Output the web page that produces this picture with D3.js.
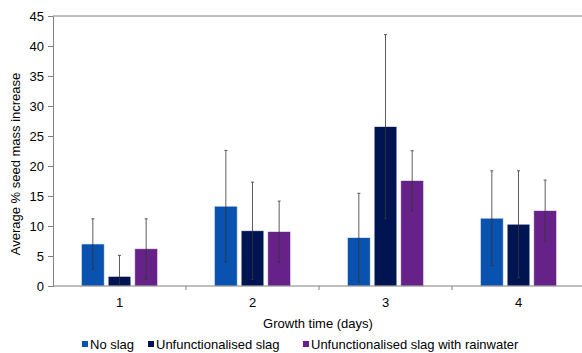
<!DOCTYPE html>
<meta charset="utf-8">
<script src="https://d3js.org/d3.v7.min.js"></script>
<style>
  body { margin: 0; background: #fff; }
  text { font-family: "Liberation Sans", Arial, sans-serif; fill: #000; }
</style>
<body>
<div id="chart"></div>
<script>
// data
var days = ["1", "2", "3", "4"];
var seriesNames = ["No slag", "Unfunctionalised slag", "Unfunctionalised slag with rainwater"];
var seriesColors = ["#0a52b0", "#001452", "#662288"];
var noSlag = [7.0, 13.3, 8.05, 11.3];
var noSlagErr = [4.2, 9.3, 7.4, 7.9];
var slag = [1.6, 9.2, 26.55, 10.3];
var slagErr = [3.5, 8.1, 15.35, 8.9];
var slagRain = [6.2, 9.05, 17.55, 12.55];
var slagRainErr = [5.0, 5.1, 5.0, 5.1];
var yTicks = [0, 5, 10, 15, 20, 25, 30, 35, 40, 45];

var values = [noSlag, slag, slagRain];
var errors = [noSlagErr, slagErr, slagRainErr];

var margin = {top: 16, right: -3, bottom: 67, left: 53},
    width = 582 - margin.left - margin.right,
    height = 353 - margin.top - margin.bottom;

var svg = d3.select("#chart")
  .append("svg")
    .attr("width", 582)
    .attr("height", 353)
  .append("g")
    .attr("transform", "translate(" + margin.left + "," + margin.top + ")");

var x = d3.scaleBand()
  .domain(days)
  .range([0, width])
  .paddingInner(0)
  .paddingOuter(0);

var xSub = d3.scaleBand()
  .domain(d3.range(3))
  .range([28.5, x.bandwidth() - 28.5])
  .paddingInner(0.15);

var y = d3.scaleLinear()
  .domain([0, 45])
  .range([height, 0]);

// top line at 45
svg.append("line")
  .attr("x1", 0).attr("x2", width)
  .attr("y1", y(45)).attr("y2", y(45))
  .attr("stroke", "#808080");

// bars
var groups = svg.selectAll(".grp")
  .data(days)
  .enter().append("g")
    .attr("transform", function (d) { return "translate(" + x(d) + ",0)"; });

groups.each(function (day, i) {
  var g = d3.select(this);
  for (var s = 0; s < 3; s++) {
    var v = values[s][i], e = errors[s][i];
    var bx = xSub(s);
    g.append("rect")
      .attr("x", bx)
      .attr("y", y(v))
      .attr("width", xSub.bandwidth())
      .attr("height", y(0) - y(v))
      .attr("fill", seriesColors[s])
      .attr("stroke", "#e8e8f0")
      .attr("stroke-width", 0.6);
    var cx = bx + xSub.bandwidth() / 2;
    var lo = Math.max(0, v - e), hi = v + e;
    g.append("line")
      .attr("x1", cx).attr("x2", cx)
      .attr("y1", y(lo)).attr("y2", y(hi))
      .attr("stroke", "#333").attr("stroke-width", 0.8);
    g.append("line")
      .attr("x1", cx - 1.5).attr("x2", cx + 1.5)
      .attr("y1", y(hi)).attr("y2", y(hi))
      .attr("stroke", "#333").attr("stroke-width", 0.8);
    if (v - e > 0) {
      g.append("line")
        .attr("x1", cx - 1.5).attr("x2", cx + 1.5)
        .attr("y1", y(lo)).attr("y2", y(lo))
        .attr("stroke", "#333").attr("stroke-width", 0.8);
    }
  }
});

// y axis
var yAxis = svg.append("g")
  .call(d3.axisLeft(y).tickValues(yTicks).tickSize(5).tickPadding(4));
yAxis.selectAll("text").style("font-size", "13px");
yAxis.selectAll("line, path").attr("stroke", "#808080");

// x axis with ticks between categories
var xAxis = svg.append("g")
  .attr("transform", "translate(0," + height + ")");
xAxis.append("line")
  .attr("x1", 0).attr("x2", width)
  .attr("stroke", "#808080");
xAxis.selectAll(".tk")
  .data(days)
  .enter().append("line")
    .attr("x1", function (d) { return x(d) + x.bandwidth(); })
    .attr("x2", function (d) { return x(d) + x.bandwidth(); })
    .attr("y1", 0).attr("y2", 4)
    .attr("stroke", "#808080");
xAxis.selectAll(".lbl")
  .data(days)
  .enter().append("text")
    .attr("x", function (d) { return x(d) + x.bandwidth() / 2; })
    .attr("y", 21)
    .attr("text-anchor", "middle")
    .style("font-size", "13px")
    .text(function (d) { return d; });

// axis titles
svg.append("text")
  .attr("x", 318 - margin.left)
  .attr("y", 328 - margin.top)
  .attr("text-anchor", "middle")
  .style("font-size", "13px")
  .text("Growth time (days)");

svg.append("text")
  .attr("transform", "translate(" + (20 - margin.left) + "," + (164 - margin.top) + ") rotate(-90)")
  .attr("text-anchor", "middle")
  .style("font-size", "13px")
  .text("Average % seed mass increase");

// legend
var legX = [82, 148, 303];
var legend = d3.select("svg").append("g");
seriesNames.forEach(function (name, i) {
  legend.append("rect")
    .attr("x", legX[i]).attr("y", 341)
    .attr("width", 6).attr("height", 6)
    .attr("fill", seriesColors[i]);
  legend.append("text")
    .attr("x", legX[i] + 8).attr("y", 349)
    .style("font-size", "13px")
    .text(name);
});
</script>
</body>
